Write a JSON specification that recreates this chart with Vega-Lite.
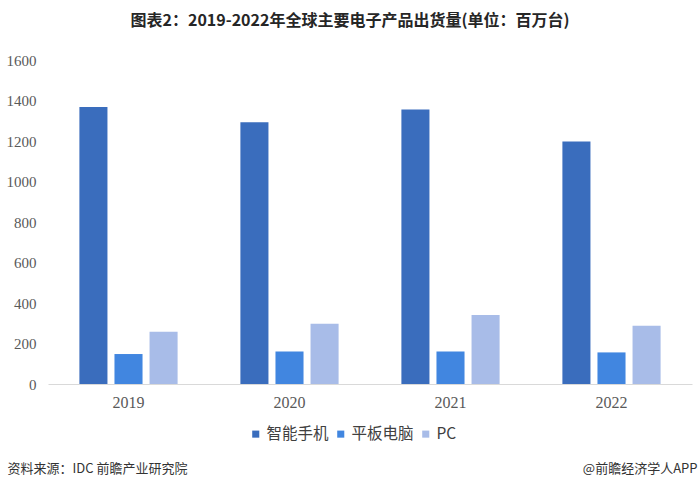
{
  "$schema": "https://vega.github.io/schema/vega-lite/v6.json",
  "width": 644,
  "height": 324,
  "autosize": {"type": "none"},
  "padding": {"left": 48, "top": 60, "right": 8, "bottom": 105},
  "background": "white",
  "title": {
    "text": "图表2：2019-2022年全球主要电子产品出货量(单位：百万台)",
    "font": "Noto Sans CJK SC",
    "fontSize": 16,
    "fontWeight": "bold",
    "color": "#262626",
    "anchor": "middle",
    "dx": -20,
    "offset": 24
  },
  "data": {
    "values": [
      {"year": "2019", "product": "智能手机", "value": 1368},
      {"year": "2019", "product": "平板电脑", "value": 148},
      {"year": "2019", "product": "PC", "value": 258},
      {"year": "2020", "product": "智能手机", "value": 1292},
      {"year": "2020", "product": "平板电脑", "value": 161},
      {"year": "2020", "product": "PC", "value": 297},
      {"year": "2021", "product": "智能手机", "value": 1355},
      {"year": "2021", "product": "平板电脑", "value": 160},
      {"year": "2021", "product": "PC", "value": 341},
      {"year": "2022", "product": "智能手机", "value": 1197},
      {"year": "2022", "product": "平板电脑", "value": 156},
      {"year": "2022", "product": "PC", "value": 288}
    ]
  },
  "config": {"view": {"stroke": null}},
  "resolve": {"axis": {"y": "independent"}},
  "layer": [
    {
      "mark": {"type": "bar"},
      "encoding": {
        "x": {
          "field": "year",
          "type": "nominal",
          "scale": {"paddingInner": 0.39, "paddingOuter": 0.195},
          "axis": {
            "labelAngle": 0,
            "labelFont": "Liberation Serif",
            "labelFontSize": 16,
            "labelColor": "#595959",
            "labelPadding": 10,
            "ticks": false,
            "domainColor": "#d9d9d9",
            "domainWidth": 1,
            "title": "资料来源：IDC 前瞻产业研究院",
            "titleFont": "Noto Sans CJK SC",
            "titleFontSize": 13,
            "titleFontWeight": "normal",
            "titleColor": "#333333",
            "titleAnchor": "start",
            "titleAlign": "left",
            "titleBaseline": "middle",
            "titleX": -41,
            "titleY": 84
          }
        },
        "xOffset": {
          "field": "product",
          "type": "nominal",
          "sort": ["智能手机", "平板电脑", "PC"],
          "scale": {"paddingInner": 0.2, "paddingOuter": 0}
        },
        "y": {
          "field": "value",
          "type": "quantitative",
          "scale": {"domain": [0, 1600]},
          "axis": {
            "orient": "left",
            "values": [0, 200, 400, 600, 800, 1000, 1200, 1400, 1600],
            "format": "d",
            "grid": false,
            "domain": false,
            "ticks": false,
            "labelPadding": 12,
            "labelFont": "Liberation Serif",
            "labelFontSize": 15,
            "labelColor": "#595959",
            "title": null
          }
        },
        "color": {
          "field": "product",
          "type": "nominal",
          "sort": ["智能手机", "平板电脑", "PC"],
          "scale": {
            "domain": ["智能手机", "平板电脑", "PC"],
            "range": ["#3A6DBD", "#4186E0", "#A8BCE8"]
          },
          "legend": {
            "title": null,
            "orient": "none",
            "direction": "horizontal",
            "legendX": 200,
            "legendY": 366,
            "symbolType": "square",
            "symbolSize": 50,
            "symbolStrokeWidth": 0,
            "labelFont": "Noto Sans CJK SC",
            "labelFontSize": 15.5,
            "labelColor": "#404040",
            "labelOffset": 3,
            "columnPadding": 4
          }
        }
      }
    },
    {
      "mark": {"type": "rule", "opacity": 0},
      "encoding": {
        "y": {
          "field": "value",
          "type": "quantitative",
          "axis": {
            "orient": "right",
            "labels": false,
            "ticks": false,
            "domain": false,
            "grid": false,
            "title": "@前瞻经济学人APP",
            "titleAngle": 0,
            "titleFont": "Noto Sans CJK SC",
            "titleFontSize": 13,
            "titleFontWeight": "normal",
            "titleColor": "#333333",
            "titleAlign": "right",
            "titleBaseline": "middle",
            "titleX": 5,
            "titleY": 408
          }
        }
      }
    }
  ]
}
